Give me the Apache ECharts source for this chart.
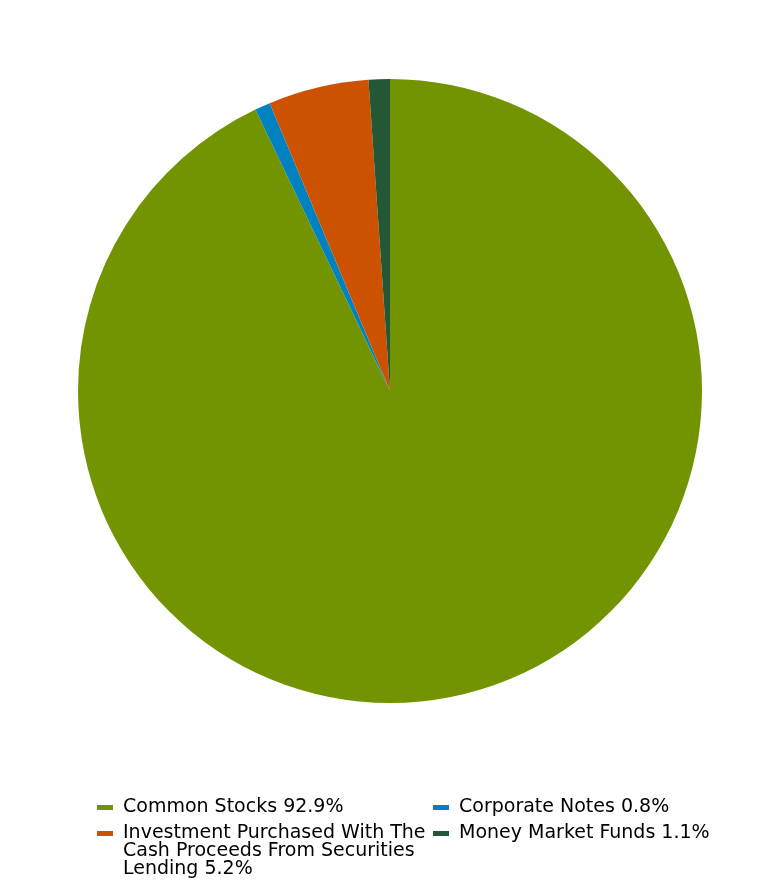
<!DOCTYPE html>
<html>
<head>
<meta charset="utf-8">
<script src="https://cdn.jsdelivr.net/npm/echarts@6/dist/echarts.min.js"></script>
<style>
html,body{margin:0;padding:0;background:#fff;}
#chart{width:780px;height:888px;}
</style>
</head>
<body>
<div id="chart"></div>
<script>
var categories = ["Common Stocks", "Corporate Notes", "Investment Purchased With The Cash Proceeds From Securities Lending", "Money Market Funds"];
var values = [92.9, 0.8, 5.2, 1.1];
var colors = ["#729400", "#0082C1", "#CC5200", "#235736"];

var chart = echarts.init(document.getElementById('chart'));
var valueMap = {};
categories.forEach(function (c, i) { valueMap[c] = values[i]; });

var font = 'DejaVu Sans';
// leadBlank: blank lines placed above a wrapped label so its first line sits beside the icon
function legendFor(name, left, top, leadBlank) {
  return {
    data: [{ name: name, icon: 'rect' }],
    left: left,
    top: top,
    orient: 'vertical',
    padding: 0,
    itemWidth: 16,
    itemHeight: 5,
    itemStyle: { borderWidth: 0 },
    formatter: function (n) {
      return (leadBlank ? '\n\n' : '') + n + ' ' + valueMap[n].toFixed(1) + '%';
    },
    textStyle: {
      fontFamily: font,
      fontSize: 19,
      lineHeight: 18,
      color: '#000',
      width: 312,
      overflow: 'break',
      padding: [0, 0, 0, 5]
    }
  };
}

chart.setOption({
  animation: false,
  color: colors,
  legend: [
    legendFor(categories[0], 97, 798, false),
    legendFor(categories[1], 433, 798, false),
    legendFor(categories[2], 97, 788, true),
    legendFor(categories[3], 433, 824, false)
  ],
  series: [{
    type: 'pie',
    center: [390, 391],
    radius: 312,
    startAngle: 90,
    clockwise: true,
    label: { show: false },
    labelLine: { show: false },
    emphasis: { disabled: true },
    itemStyle: { borderWidth: 0 },
    data: categories.map(function (c, i) {
      return { name: c, value: values[i] };
    })
  }]
});
</script>
</body>
</html>
